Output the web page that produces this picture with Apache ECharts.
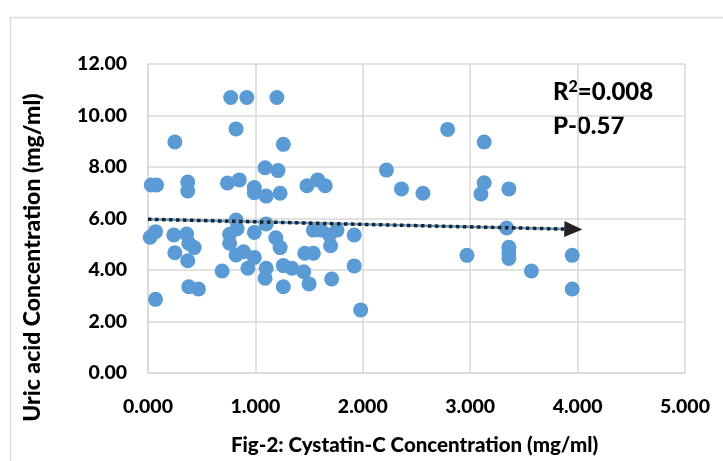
<!DOCTYPE html>
<html>
<head>
<meta charset="utf-8">
<script src="https://cdn.jsdelivr.net/npm/echarts@6/dist/echarts.min.js"></script>
<style>
html,body{margin:0;padding:0;background:#fff;}
#c{width:723px;height:461px;}
</style>
</head>
<body>
<div id="c"></div>
<script>
// Cystatin-C (x) values
var cystatinC = [0.77,0.92,1.20,0.82,0.25,1.26,1.09,1.21,0.03,0.08,
  0.37,0.37,0.74,0.85,0.99,0.99,1.10,1.23,1.48,1.58,
  1.65,2.22,2.36,2.56,2.79,3.13,3.13,3.10,3.36,3.34,
  2.97,3.36,3.36,3.36,3.57,3.95,3.95,1.98,0.07,0.02,
  0.24,0.36,0.38,0.43,0.25,0.37,0.69,0.38,0.47,0.07,
  0.82,1.10,0.76,0.76,0.99,1.19,1.23,0.82,0.89,0.99,
  0.93,1.10,1.09,1.26,1.34,1.26,1.54,1.61,1.69,1.76,
  1.70,1.92,1.46,1.54,1.45,1.50,1.71,1.92,0.83];
// Uric acid (y) values
var uricAcid = [10.70,10.70,10.70,9.48,8.97,8.88,7.97,7.86,7.30,7.30,
  7.42,7.07,7.38,7.50,7.20,7.00,6.87,6.98,7.27,7.50,
  7.27,7.88,7.15,6.98,9.46,8.97,7.39,6.95,7.15,5.63,
  4.57,4.88,4.67,4.45,3.96,4.57,3.26,2.45,5.49,5.27,
  5.36,5.40,5.04,4.87,4.67,4.36,3.96,3.35,3.26,2.86,
  5.94,5.79,5.39,5.04,5.46,5.25,4.87,4.58,4.71,4.49,
  4.07,4.07,3.68,4.17,4.07,3.35,5.55,5.55,5.36,5.55,
  4.94,5.36,4.65,4.65,3.93,3.46,3.65,4.16,5.60];
// Trendline endpoints
var trendX = [0, 3.96];
var trendY = [5.97, 5.58];
var xTicks = [0,1,2,3,4,5];
var yTicks = [0,2,4,6,8,10,12];

var pts = cystatinC.map(function(x,i){return [x, uricAcid[i]];});
var trend = trendX.map(function(x,i){return [x, trendY[i]];});

var FONT = 'Lato';
var W = 900;
var chart = echarts.init(document.getElementById('c'), null, {renderer:'canvas'});
chart.setOption({
  animation:false,
  backgroundColor:'#fff',
  grid:{left:148, right:38, top:64, bottom:88, containLabel:false},
  xAxis:{
    type:'value', min:xTicks[0], max:xTicks[xTicks.length-1], interval:1,
    axisLine:{show:true, lineStyle:{color:'#d9d9d9', width:1.5}},
    axisTick:{show:false},
    splitLine:{show:true, lineStyle:{color:'#d9d9d9', width:1.5}},
    axisLabel:{formatter:function(v){return v.toFixed(3);}, color:'#000', fontFamily:FONT, fontWeight:W, fontSize:19.5, margin:24},
    name:'Fig-2: Cystatin-C Concentration (mg/ml)', nameLocation:'middle', nameGap:62,
    nameTextStyle:{color:'#000', fontFamily:FONT, fontWeight:W, fontSize:20.5, padding:[0,0,0,-4]}
  },
  yAxis:{
    type:'value', min:yTicks[0], max:yTicks[yTicks.length-1], interval:2,
    axisLine:{show:true, lineStyle:{color:'#d9d9d9', width:1.5}},
    axisTick:{show:false},
    splitLine:{show:true, lineStyle:{color:'#d9d9d9', width:1.5}},
    axisLabel:{formatter:function(v){return v.toFixed(2);}, color:'#000', fontFamily:FONT, fontWeight:W, fontSize:19.5, margin:21},
    name:'Uric acid Concentration (mg/ml)', nameLocation:'middle', nameGap:104,
    nameTextStyle:{color:'#000', fontFamily:FONT, fontWeight:W, fontSize:23, padding:[0,0,0,-78]}
  },
  series:[
    {type:'scatter', data:pts, symbolSize:15, itemStyle:{color:'#5B9BD5', opacity:1}, z:2},
    {type:'line', data:trend, symbol:'none', lineStyle:{color:'#5B9BD5', width:2.5}, z:3},
    {type:'line', data:trend, symbol:'none', lineStyle:{color:'#222', width:3.5, type:[3.5,3.5]}, z:4,
      markLine:{silent:true, symbol:['none','triangle'], symbolSize:[16,18],
        lineStyle:{color:'#222', width:0, type:'solid'}, label:{show:false},
        data:[[{coord:trend[0]},{coord:trend[1]}]]}}
  ],
  graphic:[
    {type:'rect', left:8, top:15, shape:{width:730, height:470}, style:{fill:'none', stroke:'#d9d9d9', lineWidth:1.5}, z:-1},
    {type:'text', left:553, top:79, style:{text:'R{s|2}=0.008', fill:'#000', font:'900 24px Lato',
      rich:{s:{fontSize:16, fontWeight:W, fontFamily:FONT, verticalAlign:'top', padding:[0,0,10,0], fill:'#000'}}}},
    {type:'text', left:553, top:114, style:{text:'P-0.57', fill:'#000', font:'900 24px Lato'}}
  ]
});
</script>
</body>
</html>
